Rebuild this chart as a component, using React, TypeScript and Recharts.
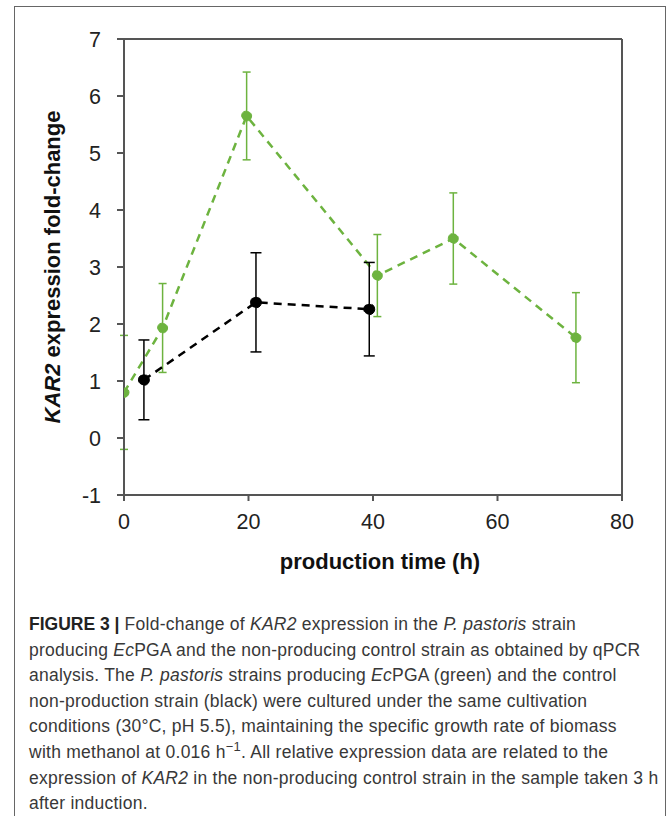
import {
  ComposedChart,
  Line,
  XAxis,
  YAxis,
  ErrorBar,
  ReferenceLine,
} from "recharts";

// production time (h) and KAR2 fold-change
const producerTime = [0, 6.2, 19.7, 40.7, 52.9, 72.6];
const producerFold = [0.8, 1.93, 5.65, 2.85, 3.5, 1.76];
const producerErr = [1.0, 0.78, 0.77, 0.72, 0.8, 0.79];

const controlTime = [3.2, 21.2, 39.4];
const controlFold = [1.02, 2.38, 2.26];
const controlErr = [0.7, 0.87, 0.82];

const xTicks = [0, 20, 40, 60, 80];
const yTicks = [-1, 0, 1, 2, 3, 4, 5, 6, 7];

const GREEN = "#6db33f";
const BLACK = "#000000";
const AXIS = "#555555";
const TICK_TEXT = "#222222";
const FONT = "'Liberation Sans', Arial, sans-serif";

const producer = producerTime.map((t, i) => ({
  time: t,
  fold: producerFold[i],
  err: producerErr[i],
}));
const control = controlTime.map((t, i) => ({
  time: t,
  fold: controlFold[i],
  err: controlErr[i],
}));

const renderYLabel = (props: any) => {
  const vb = props.viewBox || {};
  const cx = 52;
  const cy = (vb.y ?? 39) + (vb.height ?? 455) / 2;
  return (
    <text
      x={cx}
      y={cy}
      transform={`rotate(-90, ${cx}, ${cy})`}
      textAnchor="middle"
      dominantBaseline="central"
      fontFamily={FONT}
      fontSize={22}
      fontWeight={700}
      fill="#111"
    >
      <tspan fontStyle="italic">KAR2</tspan> expression fold-change
    </text>
  );
};

const renderXLabel = () => (
  <text
    x={380}
    y={569}
    textAnchor="middle"
    fontFamily={FONT}
    fontSize={22}
    fontWeight={700}
    fill="#111"
  >
    production time (h)
  </text>
);

export default function App() {
  return (
    <div
      style={{
        position: "absolute",
        left: 0,
        top: 0,
        width: 669,
        height: 816,
        overflow: "hidden",
        background: "#fff",
      }}
    >
      {/* figure frame, open at the bottom */}
      <div
        style={{
          position: "absolute",
          left: 14,
          top: 6,
          width: 652,
          height: 900,
          border: "1.5px solid #666",
          boxSizing: "border-box",
        }}
      />

      <div style={{ position: "absolute", left: 0, top: 0 }}>
        <ComposedChart
          width={669}
          height={600}
          margin={{ top: 39, right: 47, bottom: 65, left: 64 }}
        >
          <XAxis
            dataKey="time"
            type="number"
            domain={[0, 80]}
            ticks={xTicks}
            allowDataOverflow
            height={40}
            axisLine={{ stroke: AXIS, strokeWidth: 2 }}
            tickLine={{ stroke: AXIS, strokeWidth: 2 }}
            tickSize={6}
            tickMargin={13}
            tick={{ fill: TICK_TEXT, fontSize: 21.5, fontFamily: FONT }}
            label={renderXLabel}
          />
          <YAxis
            type="number"
            domain={[-1, 7]}
            ticks={yTicks}
            allowDataOverflow
            width={60}
            axisLine={{ stroke: AXIS, strokeWidth: 2 }}
            tickLine={{ stroke: AXIS, strokeWidth: 2 }}
            tickSize={7}
            tickMargin={16}
            tick={{ fill: TICK_TEXT, fontSize: 21.5, fontFamily: FONT }}
            label={renderYLabel}
          />
          <ReferenceLine y={7} stroke={AXIS} strokeWidth={2} />
          <ReferenceLine x={80} stroke={AXIS} strokeWidth={2} />

          <Line
            data={producer}
            dataKey="fold"
            stroke={GREEN}
            strokeWidth={2.5}
            strokeDasharray="8 6"
            dot={{ r: 5, fill: GREEN, stroke: GREEN, strokeWidth: 1 }}
            activeDot={false}
            isAnimationActive={false}
          >
            <ErrorBar
              dataKey="err"
              direction="y"
              width={4}
              stroke={GREEN}
              strokeWidth={1.5}
            />
          </Line>
          <Line
            data={control}
            dataKey="fold"
            stroke={BLACK}
            strokeWidth={2.5}
            strokeDasharray="8 6"
            dot={{ r: 5.5, fill: BLACK, stroke: BLACK, strokeWidth: 1 }}
            activeDot={false}
            isAnimationActive={false}
          >
            <ErrorBar
              dataKey="err"
              direction="y"
              width={5.5}
              stroke={BLACK}
              strokeWidth={1.5}
            />
          </Line>
        </ComposedChart>
      </div>

      {/* caption */}
      <div
        style={{
          position: "absolute",
          left: 29,
          top: 612,
          fontFamily: FONT,
          fontSize: 17.5,
          letterSpacing: "0.25px",
          lineHeight: "25.6px",
          color: "#383838",
          whiteSpace: "nowrap",
        }}
      >
        <div>
          <b style={{ color: "#222", letterSpacing: 0 }}>FIGURE 3 |</b>{" "}
          Fold-change of <i>KAR2</i> expression in the <i>P. pastoris</i>{" "}
          strain
        </div>
        <div>
          producing <i>Ec</i>PGA and the non-producing control strain as
          obtained by qPCR
        </div>
        <div>
          analysis. The <i>P. pastoris</i> strains producing <i>Ec</i>PGA
          (green) and the control
        </div>
        <div>
          non-production strain (black) were cultured under the same
          cultivation
        </div>
        <div>
          conditions (30°C, pH 5.5), maintaining the specific growth rate of
          biomass
        </div>
        <div>
          with methanol at 0.016 h
          <sup style={{ fontSize: 13, lineHeight: 0 }}>−1</sup>. All relative
          expression data are related to the
        </div>
        <div>
          expression of <i>KAR2</i> in the non-producing control strain in the
          sample taken 3 h
        </div>
        <div>after induction.</div>
      </div>
    </div>
  );
}
